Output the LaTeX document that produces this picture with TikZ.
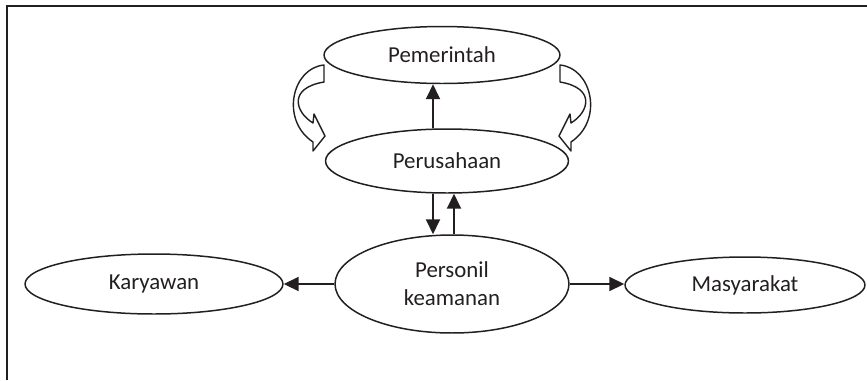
\documentclass[tikz,border=0pt]{standalone}
\usepackage{fontspec}
\setmainfont{Carlito}
\usetikzlibrary{shapes.geometric, arrows.meta, positioning}

\definecolor{inkgray}{HTML}{231F20}

\tikzset{
    turnarrow/.pic={
        % twisted ribbon arrow, tail at the upper ellipse, head at the lower one
        \filldraw[fill=white, draw=inkgray, line width=0.8pt, line join=round]
            (324,65) .. controls (292,68) and (280,120) .. (313,142)
            -- (313,151) -- (325,136) -- (314,114) -- (313,123)
            .. controls (295,112) and (288,88) .. (324,82) -- cycle;
    }
}

\begin{document}
\begin{tikzpicture}[x=0.02cm, y=-0.02cm,
    font=\fontsize{13}{16}\selectfont,
    actor/.style={ellipse, draw=inkgray, line width=0.85pt, inner sep=0pt,
        text=inkgray, align=center},
    link/.style={draw=inkgray, line width=1.1pt,
        -{Triangle[width=0.28cm, length=0.3cm]}}]

        % page size and frame
        \useasboundingbox (0,0) rectangle (867,380);
        \draw[inkgray, line width=1.1pt] (7,380) -- (7,6) -- (867,6);

        % the five parties
        \node[actor, minimum width=4.72cm, minimum height=1.14cm] (pemerintah) at (442,55) {Pemerintah};
        \node[actor, minimum width=4.86cm, minimum height=1.28cm] (perusahaan) at (447,161) {Perusahaan};
        \node[actor, minimum width=4.68cm, minimum height=1.96cm] (personil) at (452,284) {Personil\\keamanan};
        \node[actor, minimum width=5.16cm, minimum height=1.20cm] (karyawan) at (154,284) {Karyawan};
        \node[actor, minimum width=4.80cm, minimum height=1.12cm] (masyarakat) at (745,285) {Masyarakat};

        % vertical links
        \draw[link] ([xshift=-0.28cm]perusahaan.north) -- ([xshift=-0.28cm]perusahaan.north |- pemerintah.south);
        \draw[link] ([xshift=-0.28cm]perusahaan.south) -- ([xshift=-0.28cm]perusahaan.south |- personil.north);
        \draw[link] ([xshift=0.04cm]personil.north) -- ([xshift=0.04cm]personil.north |- perusahaan.south);

        % horizontal links
        \draw[link] (personil.west) -- (personil.west -| karyawan.east);
        \draw[link] (personil.east) -- (personil.east -| masyarakat.west);

        % curved arrows on both sides
        \pic at (0,0) {turnarrow};
        \pic[xscale=-1] at (884,0) {turnarrow};
\end{tikzpicture}
\end{document}
